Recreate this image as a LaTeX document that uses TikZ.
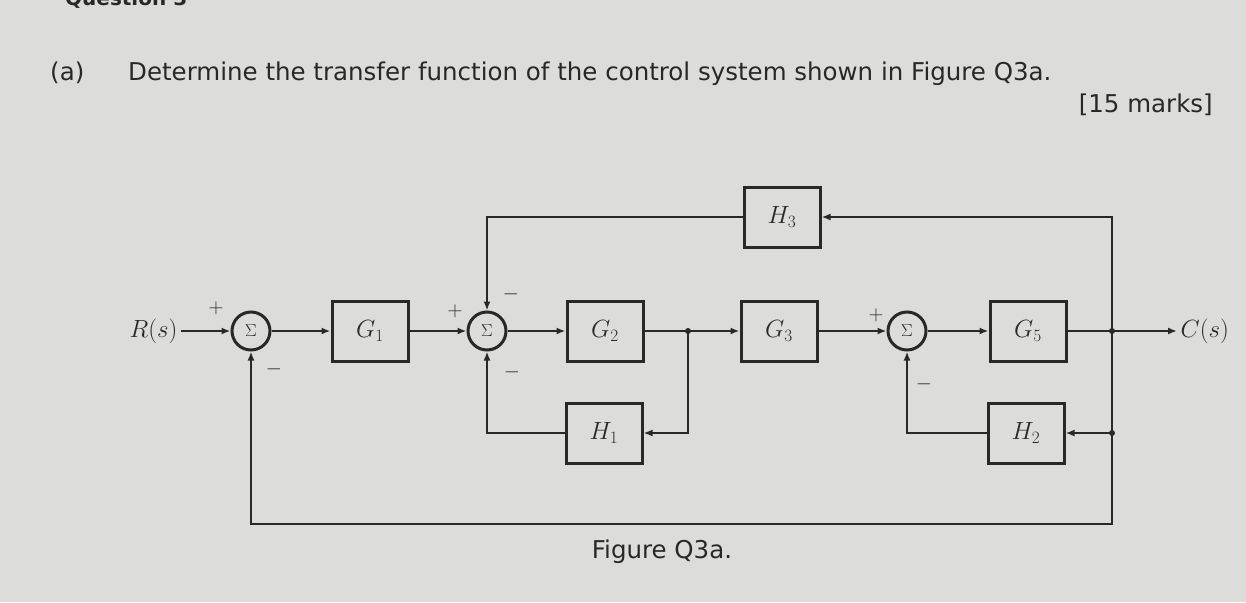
\documentclass[tikz,border=0pt]{standalone}
\usepackage{fontspec}
\setmainfont{DejaVu Sans}
\usetikzlibrary{arrows.meta}
\definecolor{bg}{RGB}{220,220,218}
\definecolor{ink}{RGB}{40,40,40}
\begin{document}
\begin{tikzpicture}[x=1pt,y=-1pt,
 blk/.style={draw=ink, line width=3pt, minimum width=76pt, minimum height=60pt, inner sep=0pt, text=ink, font=\fontsize{25}{25}\selectfont},
 sumj/.style={draw=ink, circle, line width=3pt, minimum size=38pt, inner sep=0pt, text=ink, font=\fontsize{19}{19}\selectfont},
 sig/.style={line width=2.2pt, draw=ink},
 arr/.style={sig, -{Latex[length=9pt,width=7pt]}},
 dot/.style={circle, fill=ink, inner sep=0pt, minimum size=6pt},
 sign/.style={text=ink, font=\fontsize{20}{20}\selectfont, inner sep=0pt},
 lbl/.style={text=ink, font=\fontsize{26}{26}\selectfont},
 qtext/.style={text=ink, font=\fontsize{24.5}{24.5}\selectfont, inner sep=0pt}]
\clip (0,0) rectangle (1246,602);
\fill[bg] (0,0) rectangle (1246,602);
% texts
\node[qtext, font=\fontsize{20}{20}\selectfont\bfseries, anchor=base west] (q) at (65,6) {Question 3};
\node[qtext, anchor=base west] (a) at (50,81) {(a)};
\node[qtext, anchor=base west] (det) at (128,81) {Determine the transfer function of the control system shown in Figure Q3a.};
\node[qtext, anchor=base east] (marks) at (1213,112) {[15 marks]};
\node[qtext, anchor=base] (fig) at (662,558) {Figure Q3a.};
% blocks
\node[lbl, anchor=east] (R) at (181,331) {$R(s)$};
\node[sumj] (s1) at (251,331) {$\Sigma$};
\node[blk] (G1) at (370,331) {$G_1$};
\node[sumj] (s2) at (487,331) {$\Sigma$};
\node[blk] (G2) at (605,331) {$G_2$};
\node[blk] (G3) at (779,331) {$G_3$};
\node[sumj] (s3) at (907,331) {$\Sigma$};
\node[blk] (G5) at (1028,331) {$G_5$};
\node[lbl, anchor=west] (C) at (1177,331) {$C(s)$};
\node[blk] (H3) at (782,217) {$H_3$};
\node[blk] (H1) at (604,433) {$H_1$};
\node[blk] (H2) at (1026,433) {$H_2$};
\coordinate (b1) at (688,331);
\coordinate (b2) at (1112,331);
\coordinate (b3) at (1112,433);
\coordinate (br) at (1112,524);
% forward path
\draw[arr] (R) -- (s1);
\draw[arr] (s1) -- (G1);
\draw[arr] (G1) -- (s2);
\draw[arr] (s2) -- (G2);
\draw[sig] (G2) -- (b1);
\draw[arr] (b1) -- (G3);
\draw[arr] (G3) -- (s3);
\draw[arr] (s3) -- (G5);
\draw[sig] (G5) -- (b2);
\draw[arr] (b2) -- (C);
% feedback
\draw[arr] (b2) |- (H3.east);
\draw[arr] (H3.west) -| (s2.north);
\draw[arr] (b1) |- (H1.east);
\draw[arr] (H1.west) -| (s2.south);
\draw[arr] (b3) -- (H2.east);
\draw[arr] (H2.west) -| (s3.south);
\draw[arr] (b2) -- (br) -| (s1.south);
\node[dot] (d1) at (b1) {};
\node[dot] (d2) at (b2) {};
\node[dot] (d3) at (b3) {};
% signs
\node[sign] (p1) at (216,308) {$+$};
\node[sign] (m1) at (274,369) {$-$};
\node[sign] (p2) at (455,311) {$+$};
\node[sign] (m2t) at (511,294) {$-$};
\node[sign] (m2b) at (512,372) {$-$};
\node[sign] (p3) at (876,315) {$+$};
\node[sign] (m3) at (924,384) {$-$};
\end{tikzpicture}
\end{document}
